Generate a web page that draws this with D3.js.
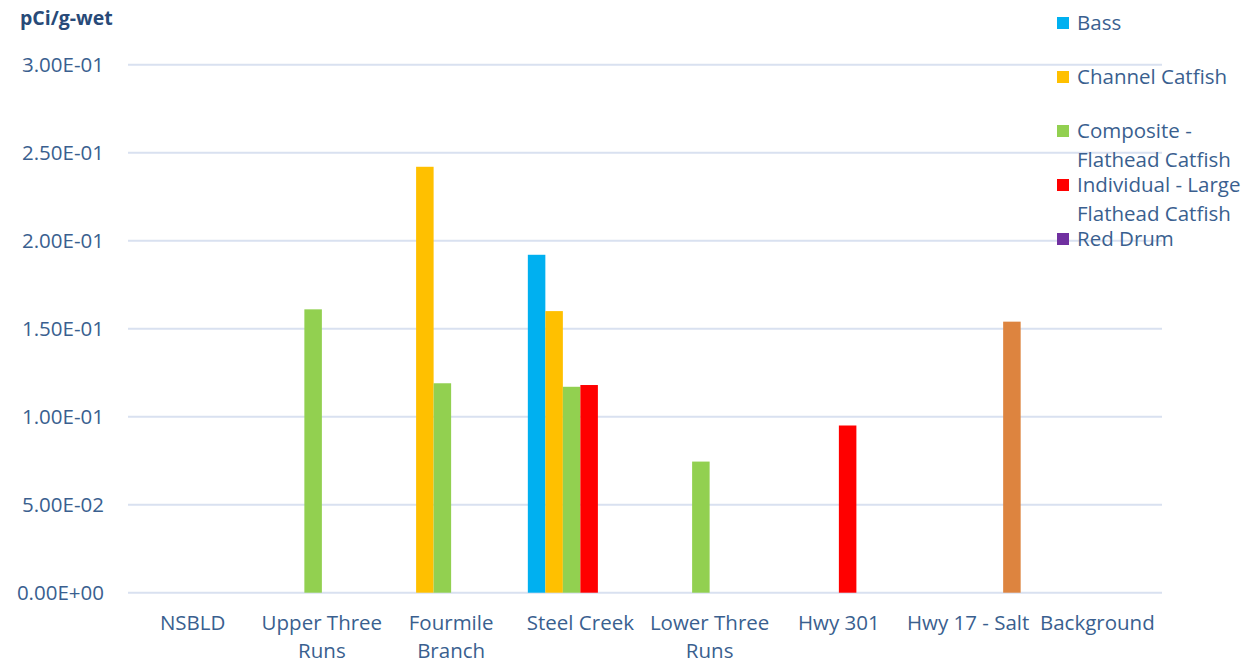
<!DOCTYPE html>
<html><head><meta charset="utf-8">
<script src="https://cdn.jsdelivr.net/npm/d3@7"></script>
<style>body{margin:0;background:#fff}svg{display:block}text{font-family:"Open Sans",sans-serif;fill:#3A5F8F}</style>
</head><body><svg id="c" width="1256" height="664"></svg>
<script>
const categories = ["NSBLD","Upper Three Runs","Fourmile Branch","Steel Creek","Lower Three Runs","Hwy 301","Hwy 17 - Salt","Background"];
const categoryLines = [["NSBLD"],["Upper Three","Runs"],["Fourmile","Branch"],["Steel Creek"],["Lower Three","Runs"],["Hwy 301"],["Hwy 17 - Salt"],["Background"]];
const seriesNames = ["Bass","Channel Catfish","Composite - Flathead Catfish","Individual - Large Flathead Catfish","Red Drum","Other"];
const legendLines = [["Bass"],["Channel Catfish"],["Composite -","Flathead Catfish"],["Individual - Large","Flathead Catfish"],["Red Drum"]];
const seriesColors = ["#00B0F0","#FFC000","#92D050","#FF0000","#7030A0","#DD843F"];
const bass            = [null,null,null,0.192,null,null,null,null];
const channelCatfish  = [null,null,0.242,0.160,null,null,null,null];
const compositeFlat   = [null,0.161,0.119,0.117,0.0745,null,null,null];
const individualFlat  = [null,null,null,0.118,null,0.095,null,null];
const redDrum         = [null,null,null,null,null,null,null,null];
const other           = [null,null,null,null,null,null,0.154,null];
const seriesValues = [bass,channelCatfish,compositeFlat,individualFlat,redDrum,other];
const yTicks = [0,0.05,0.10,0.15,0.20,0.25,0.30];
const yTickLabels = ["0.00E+00","5.00E-02","1.00E-01","1.50E-01","2.00E-01","2.50E-01","3.00E-01"];

const svg = d3.select("#c");
const L=128,R=1162,T=64.7,B=592.7;
const x = d3.scaleBand().domain(categories).range([L,R]).padding(0);
const bw = x.bandwidth();
const xs = d3.scaleBand().domain(seriesNames).range([0,bw]).paddingOuter(0.69).paddingInner(0);
const y = d3.scaleLinear().domain([0,0.3]).range([B,T]);

svg.append("g").selectAll("line").data(yTicks).join("line")
  .attr("x1",L).attr("x2",R).attr("y1",d=>y(d)).attr("y2",d=>y(d))
  .attr("stroke","#D9E1F0").attr("stroke-width",2);
svg.append("g").selectAll("text").data(yTicks).join("text")
  .attr("x",104).attr("y",d=>y(d)+7).attr("text-anchor","end")
  .style("font-size","20.5px").text((d,i)=>yTickLabels[i]);
seriesValues.forEach((vals,si)=>{
  svg.append("g").selectAll("rect").data(vals.map((v,i)=>({v,c:categories[i]})).filter(d=>d.v!=null)).join("rect")
    .attr("x",d=>x(d.c)+xs(seriesNames[si])).attr("width",xs.bandwidth())
    .attr("y",d=>y(d.v)).attr("height",d=>y(0)-y(d.v)).attr("fill",seriesColors[si]);
});
categories.forEach((c,i)=>{
  const t=svg.append("text").attr("text-anchor","middle").style("font-size","20.5px");
  categoryLines[i].forEach((ln,j)=>t.append("tspan").attr("x",x(c)+bw/2).attr("y",630+j*28).text(ln));
});
svg.append("text").attr("x",20).attr("y",25).style("font-size","19.5px").style("font-weight","bold").style("fill","#284A78").text("pCi/g-wet");
legendLines.forEach((lines,i)=>{
  const yy=23+i*54;
  svg.append("rect").attr("x",1057).attr("y",yy-6).attr("width",12).attr("height",12).attr("fill",seriesColors[i]);
  const t=svg.append("text").style("font-size","20.5px");
  lines.forEach((ln,j)=>t.append("tspan").attr("x",1077).attr("y",yy+7+j*29).text(ln));
});
</script></body></html>
